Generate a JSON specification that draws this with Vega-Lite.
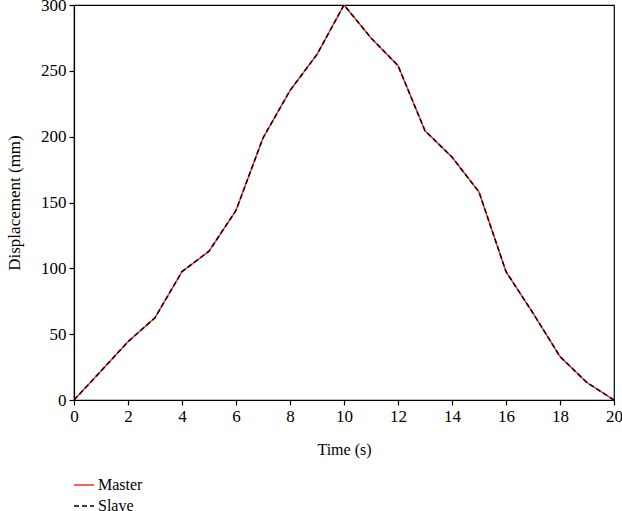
{
  "$schema": "https://vega.github.io/schema/vega-lite/v6.json",
  "autosize": "none",
  "width": 540,
  "height": 395,
  "padding": {"left": 74, "top": 5, "right": 8, "bottom": 111},
  "background": "white",
  "config": {
    "font": "Liberation Serif",
    "view": {"stroke": "black", "strokeWidth": 1.2},
    "axis": {
      "domainColor": "black",
      "tickColor": "black",
      "labelColor": "black",
      "titleColor": "black",
      "labelFont": "Liberation Serif",
      "titleFont": "Liberation Serif",
      "labelFontSize": 17,
      "titleFontSize": 16,
      "titleFontWeight": "normal",
      "grid": false,
      "tickSize": 5,
      "domainWidth": 1.2,
      "tickWidth": 1.2,
      "labelFlush": false,
      "labelOverlap": false
    }
  },
  "data": {
    "values": [
      {"t": 0, "d": 0, "series": "Master"},
      {"t": 1, "d": 22, "series": "Master"},
      {"t": 2, "d": 44.3, "series": "Master"},
      {"t": 3, "d": 62.5, "series": "Master"},
      {"t": 4, "d": 97.5, "series": "Master"},
      {"t": 5, "d": 113, "series": "Master"},
      {"t": 6, "d": 144, "series": "Master"},
      {"t": 7, "d": 199, "series": "Master"},
      {"t": 8, "d": 235, "series": "Master"},
      {"t": 9, "d": 262.5, "series": "Master"},
      {"t": 10, "d": 300, "series": "Master"},
      {"t": 11, "d": 275, "series": "Master"},
      {"t": 12, "d": 254, "series": "Master"},
      {"t": 13, "d": 204.5, "series": "Master"},
      {"t": 14, "d": 184.5, "series": "Master"},
      {"t": 15, "d": 158, "series": "Master"},
      {"t": 16, "d": 97.5, "series": "Master"},
      {"t": 17, "d": 66, "series": "Master"},
      {"t": 18, "d": 33, "series": "Master"},
      {"t": 19, "d": 13.2, "series": "Master"},
      {"t": 20, "d": 0, "series": "Master"},
      {"t": 0, "d": 0, "series": "Slave"},
      {"t": 1, "d": 22, "series": "Slave"},
      {"t": 2, "d": 44.3, "series": "Slave"},
      {"t": 3, "d": 62.5, "series": "Slave"},
      {"t": 4, "d": 97.5, "series": "Slave"},
      {"t": 5, "d": 113, "series": "Slave"},
      {"t": 6, "d": 144, "series": "Slave"},
      {"t": 7, "d": 199, "series": "Slave"},
      {"t": 8, "d": 235, "series": "Slave"},
      {"t": 9, "d": 262.5, "series": "Slave"},
      {"t": 10, "d": 300, "series": "Slave"},
      {"t": 11, "d": 275, "series": "Slave"},
      {"t": 12, "d": 254, "series": "Slave"},
      {"t": 13, "d": 204.5, "series": "Slave"},
      {"t": 14, "d": 184.5, "series": "Slave"},
      {"t": 15, "d": 158, "series": "Slave"},
      {"t": 16, "d": 97.5, "series": "Slave"},
      {"t": 17, "d": 66, "series": "Slave"},
      {"t": 18, "d": 33, "series": "Slave"},
      {"t": 19, "d": 13.2, "series": "Slave"},
      {"t": 20, "d": 0, "series": "Slave"}
    ]
  },
  "mark": {"type": "line", "strokeWidth": 1.5, "clip": true},
  "encoding": {
    "x": {
      "field": "t",
      "type": "quantitative",
      "scale": {"domain": [0, 20], "nice": false},
      "axis": {"values": [0, 2, 4, 6, 8, 10, 12, 14, 16, 18, 20], "title": "Time (s)", "titlePadding": 17, "labelPadding": 3}
    },
    "y": {
      "field": "d",
      "type": "quantitative",
      "scale": {"domain": [0, 300], "nice": false},
      "axis": {"values": [0, 50, 100, 150, 200, 250, 300], "title": "Displacement (mm)", "titleFontSize": 17, "titlePadding": 17, "labelPadding": 3}
    },
    "color": {
      "field": "series",
      "type": "nominal",
      "scale": {"domain": ["Master", "Slave"], "range": ["#ff2a2a", "#000000"]},
      "legend": {
        "title": null,
        "orient": "none",
        "legendX": -1,
        "legendY": 469,
        "padding": 0,
        "symbolType": "stroke",
        "symbolSize": 400,
        "symbolStrokeWidth": 1.5,
        "labelFontSize": 16,
        "labelFont": "Liberation Serif",
        "labelColor": "black",
        "labelOffset": 3,
        "rowPadding": 2
      }
    },
    "strokeDash": {
      "field": "series",
      "type": "nominal",
      "scale": {"domain": ["Master", "Slave"], "range": [[1, 0], [5, 3]]},
      "legend": null
    },
    "order": {"field": "series"}
  }
}
